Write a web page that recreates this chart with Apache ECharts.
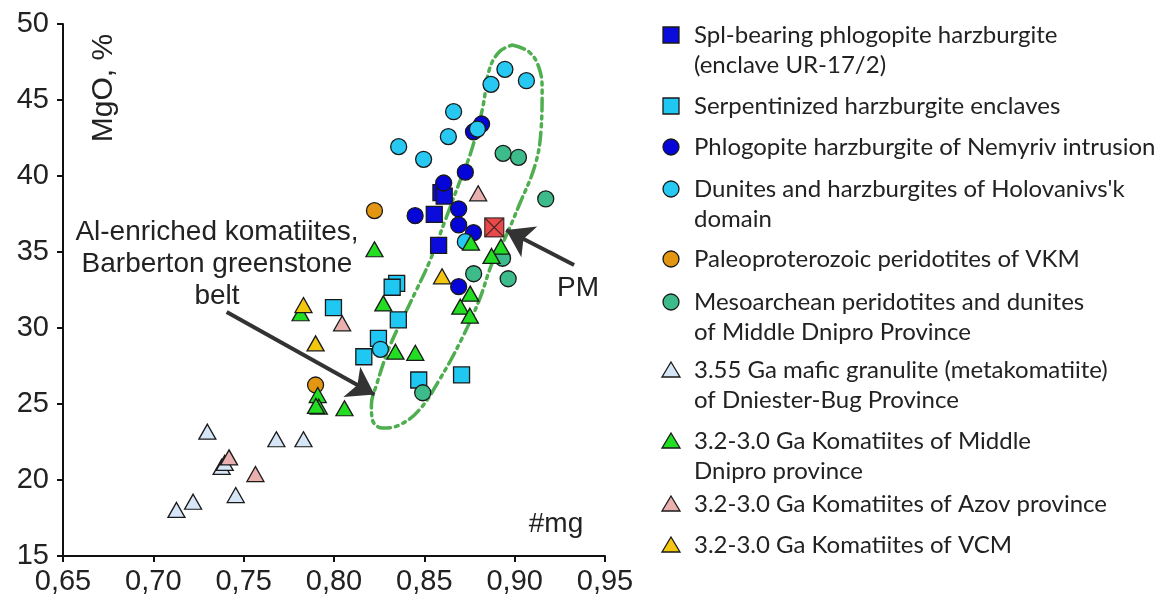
<!DOCTYPE html>
<html>
<head>
<meta charset="utf-8">
<script src="https://cdn.jsdelivr.net/npm/echarts@6/dist/echarts.min.js"></script>
<style>
  html, body { margin: 0; padding: 0; background: #fff; }
  #chart { width: 1168px; height: 608px; }
</style>
</head>
<body>
<div id="chart"></div>
<script>
// #mg (x) vs MgO wt.% (y) for each rock group
const splBearing = [[0.8592, 38.90], [0.8610, 38.68], [0.8555, 37.48], [0.8579, 35.44]];
const serpentinized = [[0.8347, 32.94], [0.8322, 32.68], [0.7997, 31.34], [0.8356, 30.53], [0.8246, 29.32],
  [0.8165, 28.11], [0.8469, 26.58], [0.8706, 26.91]];
const phlogopite = [[0.8817, 43.42], [0.8772, 42.91], [0.8727, 40.25], [0.8607, 39.54], [0.8449, 37.39],
  [0.8690, 37.83], [0.8690, 36.78], [0.8772, 36.27], [0.8690, 32.72]];
const dunites = [[0.8946, 47.02], [0.8869, 46.03], [0.9065, 46.27], [0.8662, 44.23], [0.8794, 43.09],
  [0.8633, 42.59], [0.8358, 41.93], [0.8496, 41.10], [0.8727, 35.68], [0.8257, 28.60]];
const paleoproterozoic = [[0.8224, 37.72], [0.7898, 26.25]];
const mesoarchean = [[0.8936, 41.49], [0.9021, 41.23], [0.9172, 38.49], [0.8933, 34.59], [0.8773, 33.57],
  [0.8964, 33.24], [0.8491, 25.74]];
const granulite = [[0.7299, 23.18], [0.7681, 22.68], [0.7831, 22.68], [0.7378, 20.86], [0.7395, 21.12],
  [0.7456, 19.01], [0.7220, 18.57], [0.7128, 18.03]];
const komMiddleDnipro = [[0.8224, 35.18], [0.8758, 35.61], [0.8924, 35.35], [0.8872, 34.74], [0.8754, 32.26],
  [0.8699, 31.40], [0.8752, 30.81], [0.8273, 31.62], [0.7815, 30.97], [0.8340, 28.44], [0.8450, 28.37],
  [0.7910, 25.59], [0.7916, 24.82], [0.7900, 24.87], [0.8058, 24.72]];
const komAzov = [[0.8798, 38.86], [0.8045, 30.31], [0.7419, 21.49], [0.7565, 20.39]];
const komVCM = [[0.8598, 33.40], [0.7831, 31.51], [0.7898, 28.99]];
const primitiveMantle = [[0.8887, 36.62]];

// outline of the Barberton Al-enriched komatiite field
const barbertonField = [[0.8986, 48.62], [0.9080, 48.16], [0.9135, 47.11], [0.9152, 45.66], [0.9146, 43.03],
  [0.9113, 40.72], [0.9025, 38.09], [0.8942, 35.79], [0.8876, 34.28], [0.8804, 31.84], [0.8704, 29.21],
  [0.8583, 26.58], [0.8472, 24.61], [0.8362, 23.62], [0.8268, 23.42], [0.8213, 23.95], [0.8207, 24.93],
  [0.8235, 26.25], [0.8307, 28.75], [0.8390, 30.86], [0.8456, 32.50], [0.8528, 34.34], [0.8610, 36.91],
  [0.8693, 39.54], [0.8749, 41.25], [0.8793, 43.03], [0.8826, 44.67], [0.8859, 46.97], [0.8914, 48.16],
  [0.8986, 48.62]];

// annotation arrows: [from, to]
const arrowBelt = [[0.7406, 31.05], [0.8224, 25.62]];
const arrowPM = [[0.9329, 34.14], [0.8953, 36.45]];

const xTicks = { min: 0.65, max: 0.95, step: 0.05 };
const yTicks = { min: 15, max: 50, step: 5 };

const TXT = '#222';
const EDGE = '#1a1a1a';
const AXIS_FONT = 'Liberation Sans, Arial, sans-serif';
const LEGEND_FONT = 'Lato, sans-serif';

const groups = [
  { name: 'Spl-bearing phlogopite harzburgite\n(enclave UR-17/2)', data: splBearing, symbol: 'rect', size: 16, color: '#0b0bdc', ly: 35 },
  { name: 'Serpentinized harzburgite enclaves', data: serpentinized, symbol: 'rect', size: 16, color: '#1fc8f3', ly: 106 },
  { name: 'Phlogopite harzburgite of Nemyriv intrusion', data: phlogopite, symbol: 'circle', size: 16, color: '#0505d8', ly: 147 },
  { name: "Dunites and harzburgites of Holovanivs'k\ndomain", data: dunites, symbol: 'circle', size: 16, color: '#27c9f2', ly: 189 },
  { name: 'Paleoproterozoic peridotites of VKM', data: paleoproterozoic, symbol: 'circle', size: 16, color: '#e39612', ly: 259 },
  { name: 'Mesoarchean peridotites and dunites\nof Middle Dnipro Province', data: mesoarchean, symbol: 'circle', size: 16, color: '#3dbb8a', ly: 302 },
  { name: '3.55 Ga mafic granulite (metakomatiite)\nof Dniester-Bug Province', data: granulite, symbol: 'triangle', size: [17, 15], color: '#d6e6f6', ly: 370 },
  { name: '3.2-3.0 Ga Komatiites of Middle\nDnipro province', data: komMiddleDnipro, symbol: 'triangle', size: [17, 15], color: '#22dd22', ly: 441 },
  { name: '3.2-3.0 Ga Komatiites of Azov province', data: komAzov, symbol: 'triangle', size: [17, 15], color: '#eab0b0', ly: 504 },
  { name: '3.2-3.0 Ga Komatiites of VCM', data: komVCM, symbol: 'triangle', size: [17, 15], color: '#f3c60f', ly: 545 }
];

const chart = echarts.init(document.getElementById('chart'), null, { renderer: 'canvas' });

const series = [
  {
    type: 'line',
    name: 'Barberton field',
    data: barbertonField,
    smooth: 0.4,
    symbol: 'none',
    silent: true,
    z: 1,
    lineStyle: { color: '#4fae4f', width: 3.5, type: [13, 5, 3, 5, 3, 5], cap: 'round' }
  }
];

groups.forEach(function (g, i) {
  series.push({
    type: 'scatter',
    name: g.name,
    data: g.data,
    symbol: g.symbol,
    symbolSize: g.size,
    z: 2 + i,
    itemStyle: { color: g.color, borderColor: EDGE, borderWidth: 1.3, opacity: 1 }
  });
});

series.push({
  type: 'scatter',
  name: 'PM',
  data: primitiveMantle,
  symbol: 'path://M0,0H20V20H0Z M0,0L20,20 M20,0L0,20',
  symbolSize: 19,
  z: 20,
  itemStyle: { color: '#e51b1b', borderColor: EDGE, borderWidth: 1.3 }
});

series.push({
  type: 'lines',
  coordinateSystem: 'cartesian2d',
  silent: true,
  z: 21,
  symbol: ['none', 'arrow'],
  symbolSize: [20, 26],
  lineStyle: { color: '#333', width: 4, opacity: 1, curveness: 0 },
  data: [{ coords: arrowBelt }, { coords: arrowPM }]
});

// legend drawn as graphic rows at the right
const legendGraphics = [];
groups.forEach(function (g) {
  const cx = 671, cy = g.ly;
  let marker;
  if (g.symbol === 'rect') {
    marker = { type: 'rect', shape: { x: cx - 8, y: cy - 8, width: 16, height: 16 } };
  } else if (g.symbol === 'circle') {
    marker = { type: 'circle', shape: { cx: cx, cy: cy, r: 8 } };
  } else {
    marker = { type: 'polygon', shape: { points: [[cx, cy - 8], [cx + 9, cy + 7], [cx - 9, cy + 7]] } };
  }
  marker.style = { fill: g.color, stroke: EDGE, lineWidth: 1.3 };
  legendGraphics.push(marker);
  legendGraphics.push({
    type: 'text',
    x: 694, y: cy - 15,
    style: { text: g.name, font: '24px ' + LEGEND_FONT, fill: TXT, lineHeight: 30, verticalAlign: 'top', align: 'left' }
  });
});

chart.setOption({
  backgroundColor: '#ffffff',
  animation: false,
  grid: { left: 63, right: 563, top: 24, bottom: 52, containLabel: false },
  xAxis: {
    type: 'value',
    min: xTicks.min, max: xTicks.max, interval: xTicks.step,
    axisLine: { show: true, onZero: false, lineStyle: { color: '#111', width: 2 } },
    axisTick: { show: true, inside: false, length: 6, lineStyle: { color: '#111', width: 2 } },
    splitLine: { show: false },
    axisLabel: {
      margin: 11, color: TXT, fontFamily: AXIS_FONT, fontSize: 29,
      formatter: function (v) { return v.toFixed(2).replace('.', ','); }
    }
  },
  yAxis: {
    type: 'value',
    min: yTicks.min, max: yTicks.max, interval: yTicks.step,
    axisLine: { show: true, onZero: false, lineStyle: { color: '#111', width: 2 } },
    axisTick: { show: true, inside: false, length: 6, lineStyle: { color: '#111', width: 2 } },
    splitLine: { show: false },
    axisLabel: { margin: 14, color: TXT, fontFamily: AXIS_FONT, fontSize: 29 }
  },
  graphic: [
    { type: 'text', x: 104, y: 88, rotation: Math.PI / 2,
      style: { text: 'MgO, %', font: '30px ' + AXIS_FONT, fill: TXT, align: 'center', verticalAlign: 'middle' } },
    { type: 'text', x: 556, y: 524,
      style: { text: '#mg', font: '28px ' + AXIS_FONT, fill: TXT, align: 'center', verticalAlign: 'middle' } },
    { type: 'text', x: 578, y: 288,
      style: { text: 'PM', font: '28px ' + AXIS_FONT, fill: TXT, align: 'center', verticalAlign: 'middle' } },
    { type: 'text', x: 217, y: 216,
      style: { text: 'Al-enriched komatiites,\nBarberton greenstone\nbelt', font: '28px ' + AXIS_FONT, fill: TXT,
        align: 'center', verticalAlign: 'top', lineHeight: 32 } }
  ].concat(legendGraphics),
  series: series
});
</script>
</body>
</html>
